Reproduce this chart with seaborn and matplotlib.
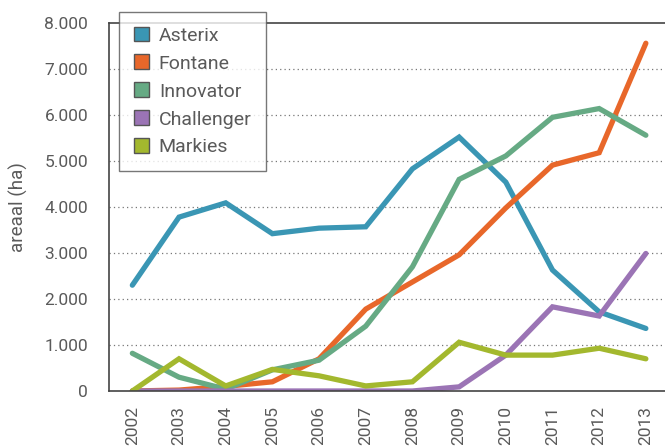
import matplotlib
matplotlib.use("Agg")
import matplotlib.pyplot as plt
from matplotlib.patches import Patch
from matplotlib.ticker import FuncFormatter, FixedLocator
import seaborn as sns
import pandas as pd
import numpy as np

years = ["2002", "2003", "2004", "2005", "2006", "2007", "2008", "2009", "2010", "2011", "2012", "2013"]
asterix = [2300, 3780, 4090, 3420, 3540, 3570, 4830, 5520, 4540, 2630, 1720, 1360]
fontane = [0, 20, 100, 200, 700, 1780, 2370, 2960, 3980, 4910, 5180, 7560]
innovator = [820, 300, 40, 460, 670, 1410, 2700, 4600, 5110, 5950, 6140, 5560]
challenger = [0, 0, 0, 0, 0, 0, 0, 90, 780, 1830, 1630, 2990]
markies = [0, 700, 110, 470, 330, 110, 200, 1060, 780, 780, 930, 700]
varieties = ["Asterix", "Fontane", "Innovator", "Challenger", "Markies"]
colors = ["#3a96b4", "#e8672a", "#66aa84", "#9b74b5", "#a3b82e"]

series = [asterix, fontane, innovator, challenger, markies]
rows = []
for name, vals in zip(varieties, series):
    for i, (y, v) in enumerate(zip(years, vals)):
        rows.append({"pos": i, "year": y, "ras": name, "ha": v})
df = pd.DataFrame(rows)

sns.set_style("white")
plt.rcParams["font.family"] = ["Roboto", "DejaVu Sans"]
txt = "#5a5a5a"

fig = plt.figure(figsize=(6.65, 4.46), dpi=100)
ax = fig.add_axes([109/665, 1-391/446, 1-109/665, (391-23)/446])

palette = dict(zip(varieties, colors))
sns.lineplot(data=df, x="pos", y="ha", hue="ras", palette=palette, hue_order=varieties,
             linewidth=3.8, legend=False, ax=ax, solid_capstyle="round", solid_joinstyle="miter")

ax.set_xlim(-0.5, 11.41)
ax.set_ylim(0, 8000)
ax.set_yticks(np.arange(0, 8001, 1000))
ax.yaxis.set_major_formatter(FuncFormatter(lambda v, p: f"{int(v):,}".replace(",", ".")))
ax.set_xticks(range(len(years)))
ax.set_xticklabels(years, rotation=90, color=txt, fontsize=12.5)
ax.tick_params(axis="x", which="major", length=0, pad=11)
ax.xaxis.set_minor_locator(FixedLocator(np.arange(-0.5, 11.6, 1)))
ax.tick_params(axis="x", which="minor", length=7, width=1, color="#444444", direction="out")
ax.tick_params(axis="y", length=8, width=1, color="#444444", labelsize=12.5, labelcolor=txt, pad=7)
ax.set_xlabel("")
ax.set_ylabel("areaal (ha)", color=txt, fontsize=13.5, labelpad=12)

for v in range(1000, 8000, 1000):
    ax.axhline(v, color="#777777", linestyle=(0, (1, 2.5)), linewidth=0.9, zorder=0)

for s in ["left", "bottom", "top"]:
    ax.spines[s].set_color("#444444")
    ax.spines[s].set_linewidth(1.2)
ax.spines["right"].set_visible(False)

handles = [Patch(facecolor=c, edgecolor="#555555", linewidth=1) for c in colors]
leg = ax.legend(handles, varieties, loc="upper left", bbox_to_anchor=(10/556, 1 + 11/368),
                frameon=True, fancybox=False, fontsize=14, handlelength=0.8, handleheight=0.8,
                labelspacing=0.5, borderpad=0.75, handletextpad=0.5, borderaxespad=0)
leg.get_frame().set_edgecolor("#555555")
leg.get_frame().set_linewidth(1)
for t in leg.get_texts():
    t.set_color(txt)

fig.savefig("out.png", dpi=100)
